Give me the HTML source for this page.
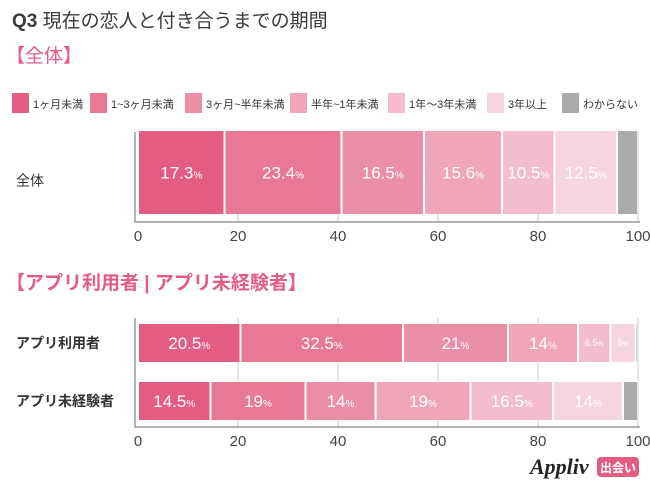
<!DOCTYPE html>
<html><head><meta charset="utf-8">
<style>
body{margin:0;background:#fff;}
svg{display:block;font-family:"Liberation Sans","Noto Sans CJK JP",sans-serif;}
</style></head>
<body>
<svg id="c" width="650" height="488" viewBox="0 0 650 488">
<text x="12" y="27" font-size="19" fill="#3a3a3a"><tspan font-weight="bold">Q3</tspan> 現在の恋人と付き合うまでの期間</text>
<text x="6" y="62" font-size="19" fill="#e35d83">【全体】</text>
<text x="6" y="289" font-size="19" font-weight="bold" fill="#e35d83">【アプリ利用者 | アプリ未経験者】</text>
<g id="legend"></g>
<g id="top"></g>
<g id="bot"></g>
<g>
<text x="530" y="474" font-size="22" font-style="italic" font-weight="bold" font-family="Liberation Serif, serif" fill="#222">Appliv</text>
<rect x="597" y="457" width="42" height="20" rx="4" fill="#e35d83"/>
<text x="618" y="472" font-size="12" font-weight="bold" fill="#fff" text-anchor="middle">出会い</text>
</g>
</svg>
<script>
const categories = ["1ヶ月未満","1~3ヶ月未満","3ヶ月~半年未満","半年~1年未満","1年～3年未満","3年以上","わからない"];
const overallRows = ["全体"];
const overallValues = [[17.3,23.4,16.5,15.6,10.5,12.5]];
const compareRows = ["アプリ利用者","アプリ未経験者"];
const compareValues = [[20.5,32.5,21,14,6.5,5],[14.5,19,14,19,16.5,14]];
const ticks = [0,20,40,60,80,100];
const colors = ["#e35d83","#e97894","#eb8ea8","#efa6b9","#f3bdcf","#f7d5e0","#aaaaaa"];
const NS="http://www.w3.org/2000/svg";
const X0=138, X1=638;
const xs = v => X0 + v/100*(X1-X0);
function mk(tag,attrs,parent){const e=document.createElementNS(NS,tag);for(const k in attrs)e.setAttribute(k,attrs[k]);parent.appendChild(e);return e;}
const lg=document.getElementById('legend');
const lx=[12,90,185,290,388,487,562];
categories.forEach((c,i)=>{
  const r=mk('rect',{x:lx[i],y:93,width:17,height:20,fill:colors[i]},lg);
  
  
  const t=mk('text',{x:lx[i]+21,y:108,'font-size':11,fill:'#333'},lg);
  t.textContent=c;
  
  
});
function drawChart(g,rows,vals,tickTop,barTops,barH,axisY,labelDy){
  ticks.forEach(tv=>{
    if(tv>0){
      const l=mk('line',{x1:xs(tv),x2:xs(tv),y1:tickTop,y2:axisY,stroke:'#ccc','stroke-width':1},g);
      
      
    }
    const t=mk('text',{x:xs(tv),y:axisY+19,'font-size':15,fill:'#444','text-anchor':'middle'},g);
    t.textContent=tv;
    
    
  });
  const ax=mk('path',{d:`M${X0-3},${tickTop} V${axisY} H${X1+2}`,stroke:'#999','stroke-width':1.5,fill:'none'},g);
  
  
  rows.forEach((rn,ri)=>{
    const y=barTops[ri];
    const lab=mk('text',{x:16,y:y+barH/2+5+labelDy,'font-size':14,'font-weight':rows.length>1?'bold':'normal',fill:'#333'},g);
    lab.textContent=rn;
    
    
    let acc=0;
    const vs=vals[ri].slice();
    const sum=vs.reduce((a,b)=>a+b,0);
    vs.push(Math.max(0,100-sum));
    vs.forEach((v,si)=>{
      const x=xs(acc), w=xs(acc+v)-x;
      const r=mk('rect',{x:x+1,y:y,width:Math.max(0,w-2),height:barH,fill:colors[si]},g);
      
      
      if(si<6){
        const small=v<8;
        const t=mk('text',{x:x+w/2,y:y+barH/2+(small?3:6),'font-size':small?9:17,fill:'#fff','text-anchor':'middle'},g);
        t.innerHTML=v+'<tspan font-size="'+(small?7:10)+'">%</tspan>';
        
        
      }
      acc+=v;
    });
  });
}
drawChart(document.getElementById('top'),overallRows,overallValues,132,[131],83,222,8);
drawChart(document.getElementById('bot'),compareRows,compareValues,318,[324,382],38,427,0);
</script>
</body></html>
